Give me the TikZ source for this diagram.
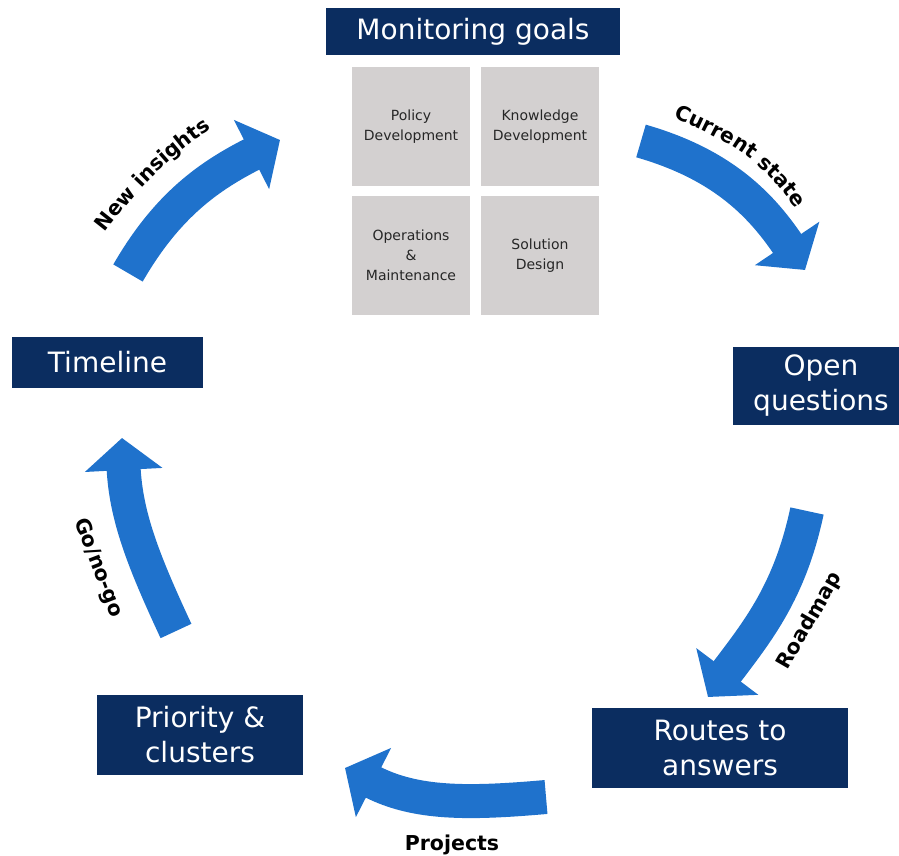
\documentclass[tikz,border=0pt]{standalone}
\usepackage{fontspec}
\setmainfont{DejaVu Sans}
\usepackage{tikz}
\usetikzlibrary{arrows.meta,decorations.text}
\definecolor{goalblue}{RGB}{11,45,96}
\definecolor{cycleblue}{RGB}{31,114,204}
\definecolor{cellgray}{RGB}{211,208,208}
\newcommand{\labelfont}{\fontsize{20.5}{24}\selectfont\bfseries}

\begin{document}
\begin{tikzpicture}[x=1pt,y=1pt,
  stage/.style={fill=goalblue,text=white,inner sep=0pt,align=center,font=\fontsize{28}{35}\selectfont},
  goalcell/.style={fill=cellgray,inner sep=0pt,minimum width=118pt,minimum height=119pt,align=center,font=\fontsize{14}{20}\selectfont,text=black!85},
  flow/.style={draw=cycleblue,line width=34pt,-{Triangle[length=32pt,width=76pt]}},
  arrowtag/.style={font=\labelfont}]
\useasboundingbox (0,0) rectangle (899,856);
% stages
\node[stage,minimum width=294pt,minimum height=47pt] (goals) at (473,824.5) {Monitoring goals};
\node[stage,minimum width=191pt,minimum height=51pt] (timeline) at (107.5,493.5) {Timeline};
\node[stage,minimum width=176pt,minimum height=78pt] (open) at (821,470) {Open\\questions};
\node[stage,minimum width=256pt,minimum height=80pt] (routes) at (720,108) {Routes to\\answers};
\node[stage,minimum width=206pt,minimum height=80pt] (priority) at (200,121) {Priority \&\\clusters};
% goal cells
\node[goalcell] (policy) at (411,729.5) {Policy\\Development};
\node[goalcell] (knowledge) at (540,729.5) {Knowledge\\Development};
\node[goalcell] (operations) at (411,600.5) {Operations\\\&\\Maintenance};
\node[goalcell] (solution) at (540,600.5) {Solution\\Design};
% arrow ends
\coordinate (cs-a) at (641,715);
\coordinate (cs-b) at (805,586);
\coordinate (rm-a) at (807,345);
\coordinate (rm-b) at (708,159);
\coordinate (pr-a) at (546,59);
\coordinate (pr-b) at (345,88);
\coordinate (go-a) at (176,225);
\coordinate (go-b) at (122,418);
\coordinate (ni-a) at (128,583);
\coordinate (ni-b) at (280,716);
\draw[flow] (cs-a) to[out=-16,in=124] (cs-b);
\draw[flow] (rm-a) to[out=258,in=53] (rm-b);
\draw[flow] (pr-a) to[out=185,in=333] (pr-b);
\draw[flow] (go-a) to[out=115,in=273] (go-b);
\draw[flow] (ni-a) to[out=60,in=207] (ni-b);
% labels
\coordinate (cs-l1) at (675,738);
\coordinate (cs-l2) at (795,648);
\coordinate (ni-l1) at (105,624);
\coordinate (ni-l2) at (211,727);
\path[decorate,decoration={text along path,text align=center,
  text={|\labelfont|Current state}}] (cs-l1) to[out=-24,in=124] (cs-l2);
\path[decorate,decoration={text along path,text align=center,
  text={|\labelfont|New insights}}] (ni-l1) to[out=52,in=215] (ni-l2);
\node[arrowtag,rotate=60] (roadmap) at (810,235) {Roadmap};
\node[arrowtag,rotate=-69] (gonogo) at (98,288) {Go/no-go};
\node[arrowtag] (projects) at (452,11) {Projects};
\end{tikzpicture}
\end{document}
